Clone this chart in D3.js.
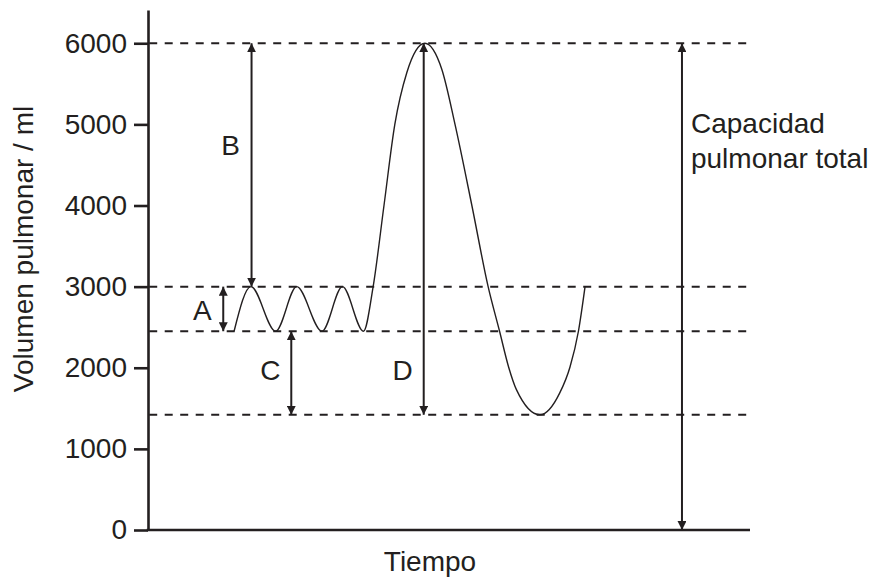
<!DOCTYPE html>
<html>
<head>
<meta charset="utf-8">
<script src="https://cdn.jsdelivr.net/npm/d3@7"></script>
<style>
    body { margin: 0; background: #fff; }
    text { font-family: "Liberation Sans", Arial, sans-serif; fill: #231f20; }
</style>
</head>
<body>
<div id="chart"></div>
<script>
// y axis ticks (ml)
const tickValues = [0, 1000, 2000, 3000, 4000, 5000, 6000];

// spirogram trace, time in arbitrary units (0-100), volume in ml
const traceTime = [14.3, 17.1, 21.2, 24.7, 28.9, 32.3, 35.8, 37.4, 39.2, 41.0, 43.0, 46.0,
    48.8, 51.0, 53.8, 56.5, 58.4, 59.9, 61.2, 65.1, 68.4, 70.1, 71.5, 72.6];
const traceVolume = [2450, 3000, 2450, 3000, 2450, 3000, 2450, 3000, 4000, 5000, 5640, 6000,
    5680, 5000, 4000, 3000, 2450, 2010, 1730, 1420, 1690, 2010, 2450, 3000];

// dashed reference levels
const levelVolumes = [6000, 3000, 2450, 1420];

// double-headed arrows
const arrowLabels = ["A", "B", "C", "D", ""];
const arrowTime = [12.5, 17.2, 23.8, 45.8, 88.7];
const arrowFrom = [3000, 6000, 2450, 6000, 6000];
const arrowTo = [2450, 3000, 1420, 1420, 0];
const labelVolume = [2712, 4746, 1972, 1972, 0];

const totalLabel = ["Capacidad", "pulmonar total"];

class Spirogram {
    constructor(parentElement) {
        this.parentElement = parentElement;
        this.initVis();
    }

    initVis() {
        let vis = this;

        const WIDTH = 877;
        const HEIGHT = 579;
        const INK = "#231f20";

        vis.svg = d3.select("#" + vis.parentElement).append("svg")
            .attr("width", WIDTH)
            .attr("height", HEIGHT);

        vis.x = d3.scaleLinear().domain([0, 100]).range([148, 750]);
        vis.y = d3.scaleLinear().domain([0, 6410]).range([530, 10]);

        // arrow head
        vis.svg.append("defs").append("marker")
            .attr("id", "head")
            .attr("viewBox", "0 0 10 10")
            .attr("refX", 10)
            .attr("refY", 5)
            .attr("markerWidth", 9)
            .attr("markerHeight", 9)
            .attr("markerUnits", "userSpaceOnUse")
            .attr("orient", "auto-start-reverse")
            .append("path")
            .attr("d", "M0,0 L10,5 L0,10 Z")
            .attr("fill", INK);

        // dashed levels
        vis.svg.selectAll(".level").data(levelVolumes)
            .enter().append("line")
            .attr("class", "level")
            .attr("x1", vis.x(0.2))
            .attr("x2", vis.x(100))
            .attr("y1", d => vis.y(d))
            .attr("y2", d => vis.y(d))
            .attr("stroke", INK)
            .attr("stroke-width", 2)
            .attr("stroke-dasharray", "8,7.5");

        // trace
        const points = traceTime.map((t, i) => [t, traceVolume[i]]);
        const line = d3.line()
            .x(d => vis.x(d[0]))
            .y(d => vis.y(d[1]))
            .curve(d3.curveMonotoneX);

        vis.svg.append("path")
            .datum(points)
            .attr("d", line)
            .attr("fill", "none")
            .attr("stroke", INK)
            .attr("stroke-width", 1.4);

        // arrows
        const arrows = arrowLabels.map((l, i) => ({
            label: l, t: arrowTime[i], from: arrowFrom[i], to: arrowTo[i], lv: labelVolume[i]
        }));

        vis.svg.selectAll(".arrow").data(arrows)
            .enter().append("line")
            .attr("class", "arrow")
            .attr("x1", d => vis.x(d.t))
            .attr("x2", d => vis.x(d.t))
            .attr("y1", d => vis.y(d.from))
            .attr("y2", d => vis.y(d.to))
            .attr("stroke", INK)
            .attr("stroke-width", 2)
            .attr("marker-start", "url(#head)")
            .attr("marker-end", "url(#head)");

        vis.svg.selectAll(".arrow-label").data(arrows.filter(d => d.label))
            .enter().append("text")
            .attr("class", "arrow-label")
            .attr("x", d => vis.x(d.t) - 21)
            .attr("y", d => vis.y(d.lv))
            .attr("dy", "0.36em")
            .attr("text-anchor", "middle")
            .style("font-size", "28px")
            .text(d => d.label);

        // total capacity label
        vis.svg.append("text")
            .attr("x", vis.x(88.7) + 9)
            .attr("y", 133)
            .style("font-size", "28px")
            .selectAll("tspan").data(totalLabel)
            .enter().append("tspan")
            .attr("x", vis.x(88.7) + 9)
            .attr("dy", (d, i) => i ? "1.24em" : 0)
            .text(d => d);

        // axes
        vis.yAxis = d3.axisLeft(vis.y)
            .tickValues(tickValues)
            .tickSize(14)
            .tickSizeOuter(0)
            .tickPadding(7)
            .tickFormat(d3.format("d"));

        const yG = vis.svg.append("g")
            .attr("transform", "translate(" + vis.x(0) + ",0)")
            .call(vis.yAxis);
        yG.selectAll("path, line").attr("stroke", INK).attr("stroke-width", 2.6);
        yG.selectAll("text").style("font-size", "28px").attr("fill", INK)
            .style("font-family", "'Liberation Sans', Arial, sans-serif");

        vis.svg.append("line")
            .attr("x1", vis.x(0) - 1.3)
            .attr("x2", vis.x(100))
            .attr("y1", vis.y(0))
            .attr("y2", vis.y(0))
            .attr("stroke", INK)
            .attr("stroke-width", 2.6);

        // axis titles
        vis.svg.append("text")
            .attr("transform", "translate(33,249) rotate(-90)")
            .attr("text-anchor", "middle")
            .style("font-size", "28px")
            .text("Volumen pulmonar / ml");

        vis.svg.append("text")
            .attr("x", 430)
            .attr("y", 571)
            .attr("text-anchor", "middle")
            .style("font-size", "28px")
            .text("Tiempo");
    }
}

new Spirogram("chart");
</script>
</body>
</html>
